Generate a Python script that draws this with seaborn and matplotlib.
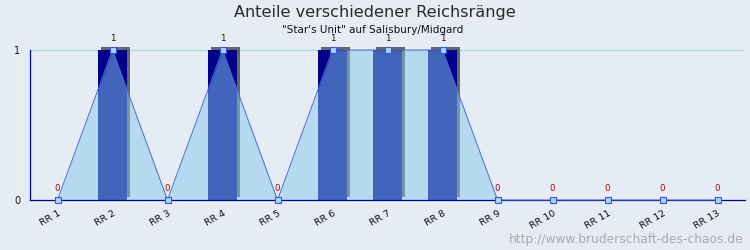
import numpy as np
import pandas as pd
import seaborn as sns
import matplotlib.pyplot as plt
import matplotlib.patheffects as pe

categories = ["RR 1", "RR 2", "RR 3", "RR 4", "RR 5", "RR 6", "RR 7",
              "RR 8", "RR 9", "RR 10", "RR 11", "RR 12", "RR 13"]
values = [0, 1, 0, 1, 0, 1, 1, 1, 0, 0, 0, 0, 0]
y_ticks = [0, 1]
title = "Anteile verschiedener Reichsränge"
subtitle = "\"Star's Unit\" auf Salisbury/Midgard"
watermark = "http://www.bruderschaft-des-chaos.de"

sns.set_theme(style="white")
plt.rcParams["font.family"] = ["DejaVu Sans"]

bg = "#e6ecf4"
navy = "#0000a0"
fig = plt.figure(figsize=(7.5, 2.5), dpi=100, facecolor=bg)
ax = fig.add_axes([30 / 750, 50 / 250, 715 / 750, 150 / 250])
ax.set_facecolor(bg)

df = pd.DataFrame({"cat": categories, "val": values})
sns.barplot(data=df, x="cat", y="val", color="#00008b", saturation=1,
            width=0.54, ax=ax, zorder=2, errorbar=None)
for p in ax.patches:
    p.set_clip_on(False)
    p.set_linewidth(0)
    p.set_path_effects([pe.SimplePatchShadow(offset=(2.2, 2.2), shadow_rgbFace="#666666", alpha=1),
                        pe.Normal()])

x = np.arange(len(categories))
ax.fill_between(x, 0, values, color="#85c9eb", alpha=0.5, lw=0, zorder=3)
sns.lineplot(x=x, y=values, ax=ax, color="#4a6ad8", lw=0.7, marker="s",
             markersize=4.5, markerfacecolor="#a8d4f8", markeredgecolor="#3355ee",
             markeredgewidth=0.8, zorder=5, clip_on=False)

ax.axhline(1, color="#a8d8e8", lw=0.8, zorder=1)

for xi, v in zip(x, values):
    ax.annotate(str(v), (xi, v), xytext=(0, 5), textcoords="offset points",
                ha="center", va="bottom", fontsize=6.2,
                color="#aa0000" if v == 0 else "#111111", zorder=6,
                annotation_clip=False)

ax.set_xlim(-0.5, len(categories) - 0.5)
ax.set_ylim(0, 1)
ax.set_xticks(x)
ax.set_xticklabels(categories, rotation=30, ha="right", rotation_mode="anchor",
                   fontsize=6.8, color="#111111")
ax.set_xticks(np.arange(-0.5, len(categories), 1), minor=True)
ax.tick_params(axis="x", which="major", length=0, pad=6)
ax.tick_params(axis="x", which="minor", direction="in", length=3.5, color=navy, width=0.8)
ax.set_yticks(y_ticks)
ax.set_yticklabels([str(t) for t in y_ticks], fontsize=7, color="#111111")
ax.tick_params(axis="y", direction="in", length=3.5, color=navy, width=0.8, pad=7)
ax.set_xlabel("")
ax.set_ylabel("")

for s in ["top", "right"]:
    ax.spines[s].set_visible(False)
for s in ["left", "bottom"]:
    ax.spines[s].set_color(navy)
    ax.spines[s].set_linewidth(0.9)
    ax.spines[s].set_zorder(4)

fig.text(375 / 750, 1 - 12 / 250, title, ha="center", va="center", fontsize=11.6,
         color="#2a2a2a")
fig.text(373 / 750, 1 - 30 / 250, subtitle, ha="center", va="center", fontsize=7.5, color="#111111")
fig.text(743 / 750, 1 - 239 / 250, watermark, ha="right", va="center", fontsize=8.8, color="#aaaaaa")

fig.savefig("out.png", dpi=100, facecolor=bg)
